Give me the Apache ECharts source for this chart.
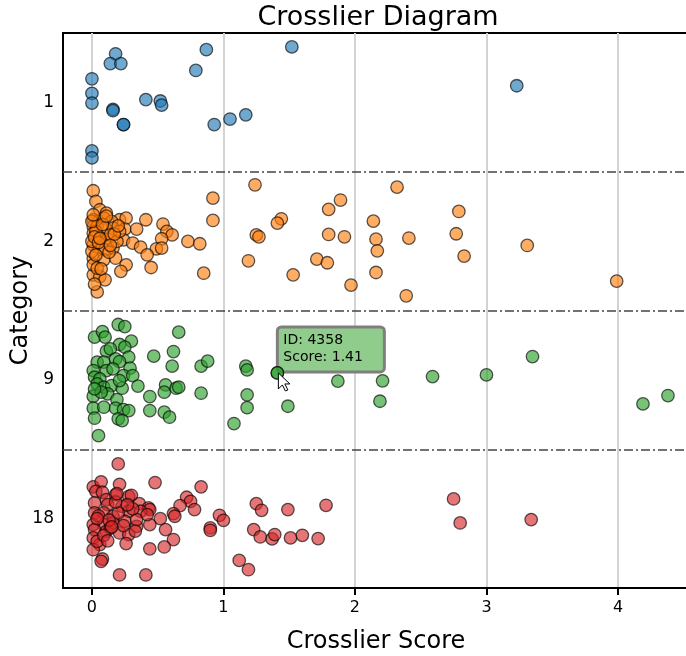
<!DOCTYPE html>
<html>
<head>
<meta charset="utf-8">
<script src="https://cdn.jsdelivr.net/npm/echarts@6/dist/echarts.min.js"></script>
<style>
  html, body { margin: 0; padding: 0; background: #fff; }
  #chart { width: 686px; height: 656px; }
</style>
</head>
<body>
<div id="chart"></div>
<script>
// categories, top to bottom
var categories = ['1', '2', '9', '18'];
var xTicks = [0, 1, 2, 3, 4];

// crosslier scores and vertical jitter inside each band
var score1 = [0.00, 0.00, 0.00, 0.00, 0.00, 0.18, 0.14, 0.22, 0.16, 0.16, 0.24, 0.24, 0.41, 0.52, 0.53, 0.79, 0.87, 0.93, 1.05, 1.17, 1.52, 3.23];
var jitter1 = [-0.17, -0.065, 0.005, 0.35, 0.40, -0.35, -0.28, -0.28, 0.05, 0.06, 0.16, 0.16, -0.02, -0.01, 0.02, -0.23, -0.38, 0.16, 0.12, 0.09, -0.40, -0.12];

var score2 = [0.01, 0.03, 0.06, 0.11, 0.01, 0.05, 0.09, 0.21, 0.26, 0.15, 0.41, 0.54, 0.92, 0.92, 1.24, 1.44, 1.41,
  0.01, 0.04, 0.10, 0.16, 0.25, 0.34, 0.57, 0.61, 0.01, 0.07, 0.12, 0.24, 0.31, 0.37, 0.53, 0.49, 0.73, 0.82, 1.25, 1.27,
  0.01, 0.05, 0.10, 0.16, 0.18, 0.42, 0.53, 0.01, 0.09, 0.26, 0.22, 0.45, 0.85, 1.19, 1.53, 0.01, 0.06, 0.10, 0.04,
  0.01, 0.04, 0.00, 0.00, 0.03, 0.00, 0.01, 0.14, 0.19, 0.21,
  2.32, 1.89, 1.80, 2.79, 2.14, 1.80, 1.92, 2.16, 2.41, 2.77, 3.31, 2.17, 1.71, 1.79, 2.83, 2.16, 1.97, 2.39, 3.99,
  0.02, 0.05, 0.08, 0.13, 0.17, 0.03, 0.07, 0.11, 0.02, 0.06, 0.14, 0.20];
var jitter2 = [-0.363, -0.286, -0.226, -0.202, -0.154, -0.142, -0.166, -0.154, -0.166, -0.142, -0.154, -0.123, -0.310, -0.149, -0.406, -0.161, -0.130,
  -0.106, -0.106, -0.094, -0.094, -0.087, -0.087, -0.070, -0.045, -0.058, -0.022, -0.014, -0.009, 0.014, 0.043, -0.017, 0.056, 0.002, 0.019, -0.045, -0.031,
  0.027, 0.043, 0.063, 0.050, 0.123, 0.099, 0.050, 0.123, 0.135, 0.171, 0.218, 0.190, 0.231, 0.142, 0.243, 0.243, 0.255, 0.279, 0.366,
  0.171, 0.195, 0.074, 0.002, -0.070, -0.142, -0.190, -0.045, 0.002, -0.070,
  -0.389, -0.296, -0.229, -0.214, -0.144, -0.048, -0.031, -0.014, -0.022, -0.053, 0.031, 0.070, 0.130, 0.156, 0.108, 0.226, 0.317, 0.394, 0.288,
  -0.03, 0.01, -0.12, 0.08, -0.05, 0.10, 0.20, -0.18, 0.31, -0.02, 0.03, -0.11];

var score9 = [0.20, 0.25, 0.02, 0.08, 0.10, 0.30, 0.21, 0.25, 0.66, 0.62, 0.47, 0.11, 0.14, 0.28, 0.18, 0.21, 0.04, 0.09,
  0.01, 0.11, 0.16, 0.29, 0.61, 0.83, 0.88, 1.17, 1.18, 1.41, 0.02, 0.06, 0.24, 0.31, 0.04, 0.09, 0.15, 0.23, 0.35,
  0.56, 0.55, 0.64, 0.66, 0.83, 0.01, 0.12, 0.19, 0.44, 1.18, 0.01, 0.09, 0.18, 0.24, 0.28, 0.44, 0.55, 0.59, 0.20,
  0.23, 0.02, 1.18, 1.49, 1.08, 0.05, 0.07, 0.21, 0.02,
  1.87, 2.21, 2.19, 2.59, 3.00, 3.35, 4.19, 4.38];
var jitter9 = [-0.399, -0.384, -0.308, -0.348, -0.308, -0.279, -0.255, -0.236, -0.344, -0.204, -0.171, -0.207, -0.224, -0.164, -0.151, -0.132, -0.128, -0.128,
  -0.067, -0.067, -0.079, -0.084, -0.099, -0.099, -0.135, -0.099, -0.072, -0.050, -0.019, -0.007, -0.031, -0.031, 0.029, 0.053, 0.041, 0.060, 0.045,
  0.036, 0.089, 0.060, 0.053, 0.096, 0.118, 0.101, 0.142, 0.120, 0.108, 0.204, 0.197, 0.204, 0.214, 0.221, 0.221, 0.233, 0.269, 0.281,
  0.293, 0.276, 0.200, 0.190, 0.315, 0.402, 0.089, 0.005, 0.065,
  0.009, 0.007, 0.154, -0.024, -0.036, -0.168, 0.173, 0.113];

var score18 = [0.20, 0.01, 0.07, 0.03, 0.08, 0.21, 0.48, 0.83, 0.11, 0.18, 0.28, 0.30, 0.02, 0.12, 0.23, 0.36, 0.43, 0.44,
  0.02, 0.09, 0.16, 0.28, 0.37, 0.52, 0.72, 0.75, 0.78, 0.67, 0.62, 0.63, 0.01, 0.09, 0.16, 0.25, 0.34, 0.44, 0.56,
  0.97, 1.00, 0.90, 0.90, 0.02, 0.11, 0.21, 0.28, 0.01, 0.06, 0.26, 0.62, 0.55, 0.44, 0.01, 0.08, 0.07, 0.21, 0.41,
  0.04, 0.14, 0.20, 0.34, 0.42,
  1.25, 1.29, 1.49, 1.23, 1.28, 1.37, 1.39, 1.51, 1.60, 1.12, 1.19, 1.78, 1.72, 2.75, 2.80, 3.34,
  0.05, 0.13, 0.18, 0.24, 0.31, 0.09, 0.15, 0.27, 0.04, 0.19, 0.12, 0.33];
var jitter18 = [-0.394, -0.229, -0.265, -0.197, -0.190, -0.247, -0.260, -0.229, -0.137, -0.173, -0.161, -0.168, -0.113, -0.101, -0.089, -0.108, -0.077, -0.065,
  -0.041, -0.041, -0.017, -0.053, -0.053, 0.000, -0.154, -0.125, -0.065, -0.094, -0.036, -0.017, 0.043, 0.043, 0.031, 0.019, 0.056, 0.043, 0.079,
  -0.024, 0.012, 0.067, 0.084, 0.079, 0.092, 0.103, 0.115, 0.139, 0.187, 0.180, 0.151, 0.204, 0.218, 0.224, 0.291, 0.308, 0.406, 0.406,
  0.164, 0.067, -0.041, 0.007, -0.029,
  -0.108, -0.060, -0.065, 0.079, 0.132, 0.146, 0.115, 0.139, 0.120, 0.301, 0.368, -0.096, 0.144, -0.142, 0.031, 0.007,
  -0.02, 0.01, -0.12, 0.05, -0.07, 0.12, 0.06, -0.10, 0.00, -0.18, 0.16, 0.09];

var scores = [score1, score2, score9, score18];
var jitters = [jitter1, jitter2, jitter9, jitter18];
var colors = ['31,119,180', '255,127,14', '44,160,44', '214,39,40'];

// hovered point
var hoverId = 4358;
var hoverScore = 1.41;
var hoverJitter = -0.05;
var hoverCat = 2;

var FONT = 'DejaVu Sans';

function makeSeries(i) {
  var pts = scores[i].map(function (s, k) { return [s, i + jitters[i][k]]; });
  var s = {
    type: 'scatter',
    name: categories[i],
    xAxisIndex: 0,
    yAxisIndex: 0,
    symbolSize: 12.5,
    data: pts,
    itemStyle: {
      color: 'rgba(' + colors[i] + ',0.8)',
      borderColor: 'rgba(0,0,0,0.8)',
      borderWidth: 1.3
    },
    emphasis: { disabled: true }
  };
  if (i === hoverCat) s.data.push([hoverScore, i + hoverJitter]);
  return s;
}

var series = categories.map(function (c, i) { return makeSeries(i); });
// dash-dot dividers between the category bands
var dividers = [];
for (var d = 1; d < categories.length; d++) dividers.push({ yAxis: d - 0.5 });
series[0].markLine = {
  silent: true,
  symbol: 'none',
  label: { show: false },
  lineStyle: { color: '#444', width: 1.5, type: [9, 3, 2, 3] },
  data: dividers
};

var myChart = echarts.init(document.getElementById('chart'), null, { renderer: 'canvas' });
var option = {
  animation: false,
  backgroundColor: '#fff',
  grid: {
    left: 63, top: 33, right: -3, bottom: 68,
    containLabel: false, outerBoundsMode: 'none',
    show: true, borderColor: '#000', borderWidth: 2, backgroundColor: 'transparent'
  },
  xAxis: {
    type: 'value',
    min: -0.22,
    max: 4.54,
    name: 'Crosslier Score',
    nameLocation: 'middle',
    nameGap: 42,
    nameMoveOverlap: false,
    nameTextStyle: { fontFamily: FONT, fontSize: 24, color: '#000' },
    axisLine: { show: true, onZero: false, lineStyle: { color: '#000', width: 2 } },
    axisTick: { show: true, length: 7, customValues: xTicks, lineStyle: { color: '#000', width: 2 } },
    axisLabel: { customValues: xTicks, fontFamily: FONT, fontSize: 16, color: '#000', margin: 12 },
    splitLine: { show: true, lineStyle: { color: '#d3d3d3', width: 2 } }
  },
  yAxis: [
    { type: 'value', min: -0.5, max: 3.5, inverse: true, show: false },
    {
      type: 'category',
      data: categories,
      inverse: true,
      position: 'left',
      boundaryGap: true,
      name: 'Category',
      nameLocation: 'middle',
      nameGap: 30,
      nameMoveOverlap: false,
      nameTextStyle: { fontFamily: FONT, fontSize: 24, color: '#000' },
      axisLine: { show: true, onZero: false, lineStyle: { color: '#000', width: 2 } },
      axisTick: { show: false },
      axisLabel: { fontFamily: FONT, fontSize: 17, color: '#000', margin: 9 },
      splitLine: { show: false }
    }
  ],
  series: series
};
myChart.setOption(option);

// title and the hover annotation, placed from the axes
var p = myChart.convertToPixel({ xAxisIndex: 0, yAxisIndex: 0 }, [hoverScore, hoverCat + hoverJitter]);
var bx = p[0], by = p[1] - 46;
myChart.setOption({
  graphic: [
    {
      type: 'text', x: 378, y: 18, z: 10,
      style: { text: 'Crosslier Diagram', font: '27px "DejaVu Sans"', fill: '#000', align: 'center', verticalAlign: 'middle' }
    },
    {
      type: 'group', x: bx, y: by, z: 100,
      children: [
        { type: 'rect', shape: { x: 0, y: 0, width: 107, height: 45, r: 4 },
          style: { fill: 'rgba(144,204,140,1)', stroke: '#7f7f7f', lineWidth: 3 } },
        { type: 'text', x: 6, y: 13,
          style: { text: 'ID: ' + hoverId, font: '14px "DejaVu Sans"', fill: '#000', verticalAlign: 'middle' } },
        { type: 'text', x: 6, y: 30,
          style: { text: 'Score: ' + hoverScore.toFixed(2), font: '14px "DejaVu Sans"', fill: '#000', verticalAlign: 'middle' } }
      ]
    },
    {
      type: 'polygon', x: p[0] + 1, y: p[1], z: 101,
      shape: { points: [[0, 0], [0, 16], [4, 12], [7, 18], [9.5, 17], [6.5, 11], [11.5, 11]] },
      style: { fill: '#fff', stroke: '#000', lineWidth: 1 }
    }
  ]
});
</script>
</body>
</html>
